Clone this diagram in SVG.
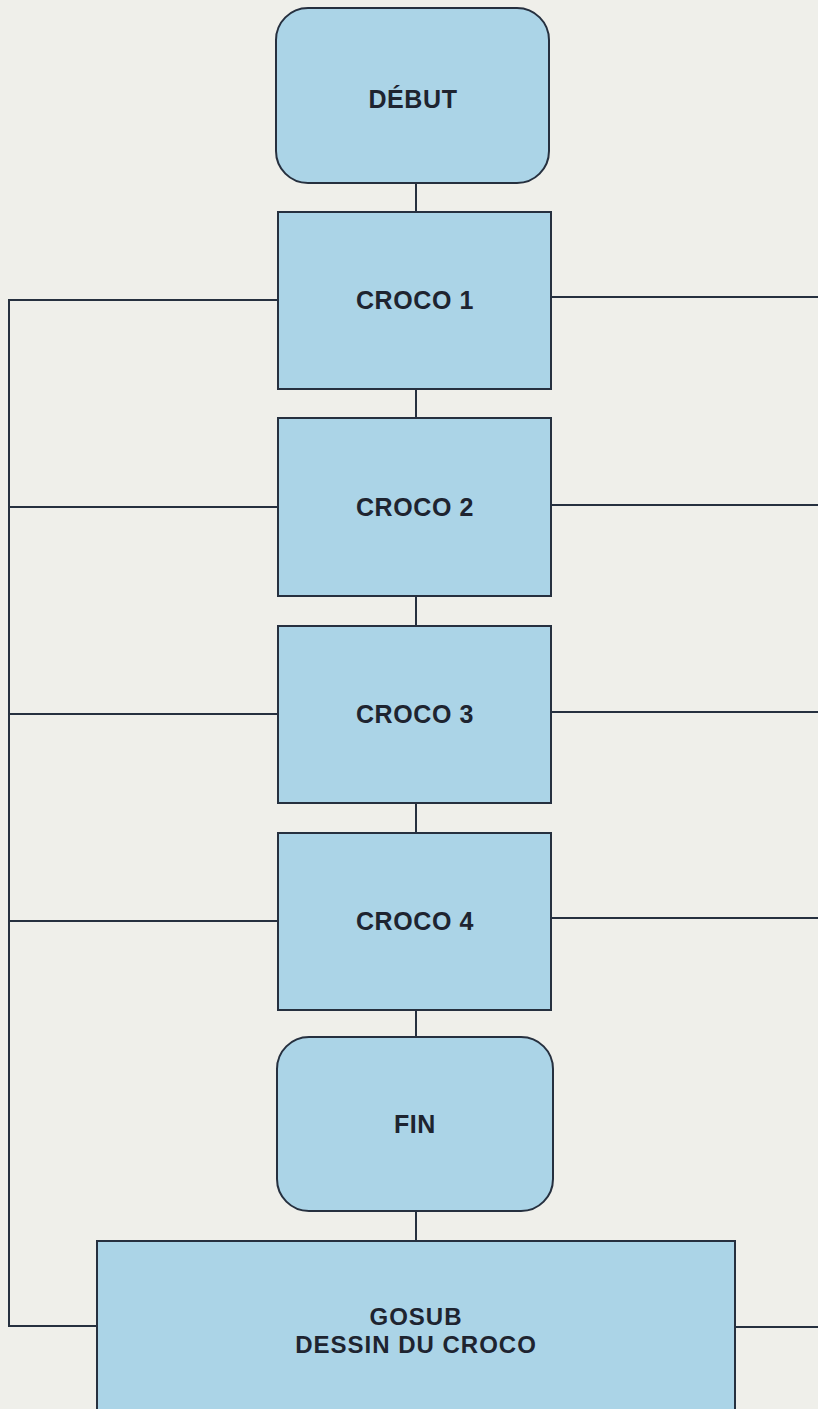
<svg xmlns="http://www.w3.org/2000/svg" width="818" height="1409" viewBox="0 0 818 1409">
<style>
.box{fill:#abd4e7;stroke:#26303f;stroke-width:2}
.ln{fill:none;stroke:#26303f;stroke-width:2}
.t{font-family:"Liberation Sans",Arial,sans-serif;font-weight:bold;font-size:25px;fill:#1e2430;text-anchor:middle;letter-spacing:0.6px}
.s{font-size:24px;letter-spacing:1px}
</style>
<rect x="0" y="0" width="818" height="1409" fill="#efefea"/>
<g id="connectors">
<path class="ln" d="M416 183V212M416 389V418M416 596V626M416 803V833M416 1010V1037M416 1211V1241"/>
<path class="ln" d="M278 300H9V1326H97"/>
<path class="ln" d="M278 507H9M278 714H9M278 921H9"/>
<path class="ln" d="M551 297H818M551 505H818M551 712H818M551 918H818M735 1327H818"/>
</g>
<g id="debut"><rect class="box" x="276" y="8" width="273" height="175" rx="32"/><text class="t" x="413" y="108">DÉBUT</text></g>
<g id="croco1"><rect class="box" x="278" y="212" width="273" height="177"/><text class="t" x="415" y="309">CROCO 1</text></g>
<g id="croco2"><rect class="box" x="278" y="418" width="273" height="178"/><text class="t" x="415" y="516">CROCO 2</text></g>
<g id="croco3"><rect class="box" x="278" y="626" width="273" height="177"/><text class="t" x="415" y="723">CROCO 3</text></g>
<g id="croco4"><rect class="box" x="278" y="833" width="273" height="177"/><text class="t" x="415" y="930">CROCO 4</text></g>
<g id="fin"><rect class="box" x="277" y="1037" width="276" height="174" rx="32"/><text class="t" x="415" y="1133">FIN</text></g>
<g id="gosub"><rect class="box" x="97" y="1241" width="638" height="200"/><text class="t s" x="416" y="1325">GOSUB</text><text class="t s" x="416" y="1353">DESSIN DU CROCO</text></g>
</svg>
